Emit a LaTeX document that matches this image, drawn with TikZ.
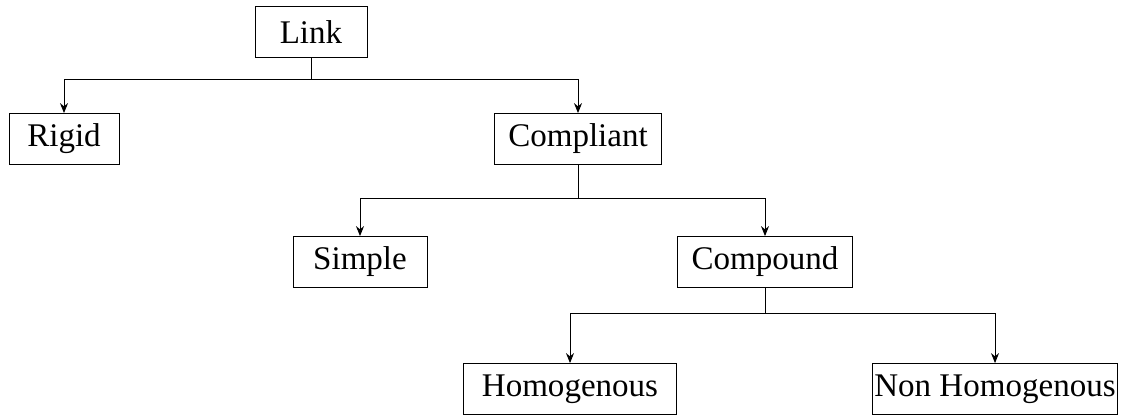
\documentclass[tikz,border=0pt]{standalone}
\usepackage{fontspec}
\setmainfont{Liberation Serif}
\usepackage{tikz}
\usetikzlibrary{arrows.meta,positioning,calc}

\tikzset{
  linkbox/.style={draw, line width=0.7pt, minimum height=1.27cm, inner sep=1pt,
    font=\fontsize{23.5}{28}\selectfont},
  branch/.style={line width=0.7pt},
  >={Stealth[length=2.5mm,width=2mm]}
}

\begin{document}
\begin{tikzpicture}
\useasboundingbox (0,0) rectangle (28.4,10.425);
% nodes
\node[linkbox, minimum width=2.8cm] (link) at (7.775,9.625) {Link};
\node[linkbox, minimum width=2.75cm] (rigid) at (1.6,6.95) {Rigid};
\node[linkbox, minimum width=4.175cm] (compliant) at (14.45,6.95) {Compliant};
\node[linkbox, minimum width=3.35cm] (simple) at (9.0,3.875) {Simple};
\node[linkbox, minimum width=4.375cm] (compound) at (19.125,3.875) {Compound};
\node[linkbox, minimum width=5.325cm] (homog) at (14.25,0.7) {Homogenous};
\node[linkbox, minimum width=6.125cm] (nonhomog) at (24.875,0.7) {Non Homogenous};
% branch points
\coordinate (b1) at (link.south |- 0,8.45);
\coordinate (b2) at (compliant.south |- 0,5.475);
\coordinate (b3) at (compound.south |- 0,2.6);
% connectors
\draw[branch] (link.south) -- (b1);
\draw[branch,->] (b1) -| (rigid);
\draw[branch,->] (b1) -| (compliant);
\draw[branch] (compliant.south) -- (b2);
\draw[branch,->] (b2) -| (simple);
\draw[branch,->] (b2) -| (compound);
\draw[branch] (compound.south) -- (b3);
\draw[branch,->] (b3) -| (homog);
\draw[branch,->] (b3) -| (nonhomog);
\end{tikzpicture}
\end{document}
